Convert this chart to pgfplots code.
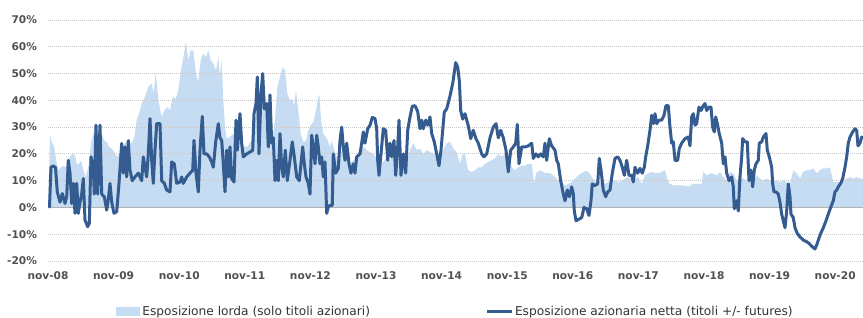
\documentclass[border=0pt]{standalone}
\usepackage{pgfplots}
\usepackage{pgfplotstable}
\pgfplotsset{compat=1.18}
\usepackage{fontspec}
\setmainfont{DejaVu Sans}
\definecolor{grossc}{RGB}{197,220,242}
\definecolor{netc}{RGB}{52,92,145}
\definecolor{tickc}{RGB}{80,80,80}
\definecolor{gridc}{RGB}{200,200,200}

% x = horizontal position in chart pixels (48 = nov-08, 65.6 px per year), y = exposure in %
\pgfplotstableread{
x y
48.3 1
50 27
51.7 24.5
54.3 22.6
56.7 16.3
58.3 13.9
61 15
63.3 15.6
65.7 15
67.7 17.6
70 18.9
72.3 20
75 19.5
76.7 16.3
79 16.3
81 17.6
83.3 13.9
85.7 11.4
88.3 15
91 24
93.3 27.6
95 29.4
98.3 28.8
101.7 27.6
104.3 25
106.7 24.5
109 22.6
111.7 22
114.3 20.7
116.7 18.9
119 20
121.7 21.4
125 24
128.3 24.5
131.7 24
134.3 26.3
136.7 32.6
139 35
141.7 38.8
145 41.3
148.3 45
151.7 46.3
153.7 42.5
155.7 50.6
158.3 40
161.7 33.8
164.3 36.2
167.7 37.5
170 36.2
172.7 41.3
175.7 40.6
178.3 43.7
181 51.2
183.3 56
186 61.8
188.3 55
190.7 58.7
193.3 58.7
196 50
198.3 46.9
200.7 55
203.3 57.5
206 56.2
208.3 58.7
210.7 55
213.3 53.7
216 51.2
218.3 56.2
220 49.4
221.7 55
223.3 40
225 30
226.7 25.7
230 26.3
233.3 27.6
236.7 26.3
240 25
243.3 23
246.7 22.6
250 24
252.7 26.3
255 32.6
257.3 38.8
260 42.5
262.7 47.5
265 42.5
267.3 36.2
270 28.8
272.7 26.3
275 32.6
277.3 45
280 48.7
282.7 52.4
285 51.2
287.3 42.5
290 40
292.7 40.6
294 37.5
296 43.7
298.3 36.2
300.7 27.6
303.3 24.5
306 25
308.3 28.8
310.7 30.7
313.3 31.9
316 36.2
318.3 41.3
319.5 42
321 32.6
323.3 27.6
325.7 26.3
327.7 25
330 22.6
331.7 25
334.3 21.4
336.7 18.9
340 20
343.3 21.4
346.7 17.6
350 16.3
353.3 17.6
356.7 18.9
360 20
363.3 22.6
366.7 21.4
370 20.7
373.3 20
376.7 18.3
380 16.3
383.3 17
386.7 18.9
390 17.6
393.3 20
396.7 17.6
400 17
403.3 17.6
406.7 17.6
410 21.4
413.3 24
416.7 21.4
420 22
423.3 20
426.7 21.4
430 20.7
433.3 20
436.7 20.7
440 18.9
443.3 21.4
446.7 24
450 24.5
453.3 22
456.7 20.7
460 16.3
462.7 20
465 20
466.7 16.3
468.3 13.9
471.7 13.3
475 13.9
478.3 15
481.7 15
485 16.3
488.3 17
491.7 17.6
495 18.3
498.3 20
501.7 18.9
505 20
508.3 18.9
511.7 15
515 13.9
518.3 15
521.7 15.6
525 15.6
528.3 16.3
531.7 16.3
534.3 8.8
536 12.8
540 13.9
545 12.8
550 12.8
555 11.4
558.3 10
561.7 9.5
565 8.2
568.3 8.8
571.7 9.5
575 10.8
578.3 12
581.7 12.8
585 13.6
588.3 13.3
591.7 11.4
595 10
598.3 9.5
601.7 10
605 8.8
608.3 9.5
611.7 10
615 10
618.3 9.5
621.7 10
625 10.8
628.3 11.4
631.7 10
635 10.8
638.3 11.4
641.7 8.8
645 12
648.3 12.8
651.7 13.3
655 12.8
658.3 12.8
661.7 13.3
665 13.9
667.7 10
670 8.8
673.3 8.2
678.3 8.2
683.3 8.2
688.3 7.8
693.3 8.8
698.3 8.8
701.7 8.8
703.3 13.3
706.7 12
711.7 12.8
716.7 12
720 13.2
723.3 11.4
726.7 10
730 13.3
733.3 12.8
736.7 10
740 11.4
743.3 10.8
746.7 10
750 9.5
753.3 10
756.7 12
760 10.8
763.3 10
766.7 10.8
770 10
773.3 9.5
776.7 10
780 9.5
783.3 10
786.7 9.5
790 8.8
793.3 13.9
796.7 12.8
800 10.8
803.3 13.3
806.7 13.9
810 13.9
813.3 14.6
816.7 12.8
820 13.9
823.3 14.6
826.7 14.6
830 15
833.3 9.5
836.7 9.5
840 9.5
843.3 10
846.7 10.8
850 11.4
853.3 10.8
856.7 11.4
860 10.8
863 10.8
}\gross

\pgfplotstableread{
x y
48.3 1.7
49.5 0.2
51 15
53 15.5
55.5 15
57.3 5.8
60 2
62.3 5.2
65 1.5
66.7 4
68.3 17.6
70 12.8
71.7 1.5
73.3 9
75 -2.2
76.7 9
78.3 -2.2
80 2
81.7 5
83.3 10.8
85 -4.7
87.7 -7.2
89.3 -6
91 18.9
93.3 15
94.3 5
96 30.7
97.7 5
100 30.7
101.7 5
104.3 4
106.7 -1
108.3 3
110 9
111.7 2
114 -2.2
116.7 -1.6
119 9
121.7 23.9
123.3 12.8
125 22.6
126.7 11.4
128.3 25
130 14
132.3 10
135 11.4
138.3 12.8
141.7 10
143.3 18.9
145 15
146.7 11.4
148.3 20
150 33.2
151.7 17.6
153.3 9
155 21.3
156.7 31.3
160 31.3
161.7 10
164.3 9
166.7 6.5
170 5.8
171.7 17
174.3 16.3
176.7 9
180 9.5
181.7 11.4
183.3 9
186.7 11.4
190 12.8
192.7 13.9
194 25
196 12.8
198.3 5.8
200 21.4
202.3 34
204 20
206.7 20
209.3 18.9
211.7 17
213.3 15
215.7 24.5
218.3 31.3
220 26
221.7 25
223.3 16.3
225 5.8
226.7 21.4
228.3 11.4
230 22.6
231.7 10.8
234 9.5
236 32.6
237.3 21.4
240 35
241.7 24
243.3 18.9
246.7 20
250 20.7
252.7 21.3
254 35
256 38.8
257.3 48.7
259 20
261 42.5
262.7 50
264.3 36.8
266.7 38.8
268.3 22.6
270 42
271.7 24
273.3 26
275 10
276.7 17.6
278.3 10
280 27.6
281.7 15
283.3 11.4
285.3 21.4
287.3 10
290 17.6
292.3 24.5
294.3 18.9
296.7 11.4
299.3 10
302.7 22.6
304.3 16.3
306 11.4
308.3 9
310 5
311.7 27
313.3 22.6
315 16.3
316.7 27
318.3 22.6
320 16.3
321.7 18.9
323.3 11.4
325 17
326.7 -2.2
328.3 0.2
330 0.8
332.3 0.8
333.3 20
335.7 12.8
338.3 14.6
340 25
341.7 30
343.3 22.6
345 17.6
346.7 24
349 16.3
351 12.8
353.3 16.3
355 12.8
356.7 18.9
360 20
361.7 24
363.3 28.2
365 24
367.7 29.4
370 30.7
372.3 33.6
375 33.2
376.7 29.4
377.7 17.6
379 12
381 20
383.3 29.4
385.7 28.8
387.7 17.6
390 24
391.7 18.9
394 25
395.7 12
397.7 22.6
399 32.6
401 12
403.3 20
405.7 12.8
407.7 28.8
410 33.8
412.3 37.8
415 38
417.7 35.8
420 29.4
421.7 32.6
423.3 29.4
425.7 32.6
427.7 30.7
430 33.8
431.7 27.6
434.3 24.5
436.7 20
439 15.6
441 21.4
442.7 28.8
444.3 35.6
446.7 36.8
450 41.6
452.7 46.3
455.7 54.1
457.7 52.4
459.3 47.5
460.7 36.2
462.7 33
465 35
468.3 30.5
470.7 25.7
473.3 28.8
476 25.7
478.3 24
481.7 20
484 18.9
486.7 20
490 26
493.3 30
496 31.3
498.3 26
500.7 28.8
503.3 26
506 21.4
508.3 13.3
510.7 21.4
513.3 22.6
515.7 24
517.3 31
519 16.3
521.7 22.6
525 22.6
528.3 23
531.7 24
533.3 18.3
536 20
538.3 18.9
540.7 20
543.3 18.9
545 24
546.7 17.6
549.3 25.7
551.7 23
555 21.4
556.7 17.6
558.3 16.3
560.7 10
563.3 5
565 2.5
567.3 6.5
569.3 4
571.7 7.7
573.3 5
574.3 -1.3
576 -5
578.3 -4.5
581.7 -3.8
584 0
586.7 -0.5
589 -3
591 2.5
592.3 8.8
595 8.2
597.7 8.8
599.3 18.3
601 14
603.3 6.5
605.7 4
607.7 5.8
610 6.5
612.3 12.8
615 18.3
617.7 18.9
620 17.6
622.3 15
624.3 12
626.7 17.6
629 12
631.7 12
633.3 9.5
635 15
637.7 12.8
640 14.6
642.3 12.8
644.3 15
645.7 18.9
647.7 23
650 28.8
651.7 34.4
653.3 31.3
655 35
656.7 31.3
659 32.6
661.7 32.6
664 34.4
666 38
668.3 38
670 30
671.7 24
673.3 24.5
675 17.6
677.7 17.6
679.3 22
681.7 24
685 25.7
688.3 26.3
690 23
691.7 33.8
693.3 35
695 30.7
696.7 31.3
699 37.5
701 36.2
703.3 38
705 38.8
706.7 36.2
709 37.5
711 37.5
712.7 30
714.3 28.2
715.7 33.8
717.7 30.7
719 28
721.7 24
723.3 16.3
725 18.9
726.7 12.8
729 10
731.7 11.4
733.3 7.7
734.3 -0.5
736.7 2.5
738.3 -1.3
740 11.4
741.7 18.9
742.7 25.7
745 24.5
747.3 24.5
749 10
750.7 14
752.7 7.7
754.3 14
756 16.3
758.3 17.6
759.3 24
761.7 24.5
763.3 26.3
766 27.6
767.3 21.4
769.3 18.9
771.7 15
772.7 8.8
774 5.8
776 5.8
778.3 5
780 1.9
781.7 -2.5
783.3 -5
785 -7.6
786.7 -1.3
788.3 8.8
790 4
791 -2.5
793.3 -3.8
795 -7.6
797.3 -9.7
800 -11
803.3 -12.2
806.7 -12.8
809.3 -13.5
811.7 -14.5
815 -15.5
816.7 -14
818.3 -12.2
820.7 -9.7
823.3 -7.6
826 -5
828.3 -2.5
830.7 0
833.3 2.5
835 5.8
836.7 6.5
838.3 7.7
840.7 9
842.7 10.8
845 15
846.7 18.9
848.3 24
850 26.3
852.7 28.2
855 29.4
856.7 28.8
858 23
860 24
861.7 26.3
863 25.7
}\net

\begin{document}
\begin{tikzpicture}
\begin{axis}[
  set layers,
  clip mode=individual,
  scale only axis,
  width=815pt, height=241pt,
  xmin=0, xmax=12.424,
  ymin=-20, ymax=70,
  axis line style={draw=none},
  tick style={draw=none},
  major tick length=0pt,
  xtick={0,1,2,3,4,5,6,7,8,9,10,11,12},
  xticklabels={nov-08,nov-09,nov-10,nov-11,nov-12,nov-13,nov-14,nov-15,nov-16,nov-17,nov-18,nov-19,nov-20},
  ytick={-20,-10,0,10,20,30,40,50,60,70},
  yticklabels={-20\%,-10\%,0\%,10\%,20\%,30\%,40\%,50\%,60\%,70\%},
  ymajorgrids=true,
  major grid style={draw=gridc, line width=0.8pt, dash pattern=on 1pt off 1pt},
  extra y ticks={0},
  extra y tick labels={},
  extra y tick style={grid=major, major grid style={solid, draw=black!30, line width=0.9pt}},
  tick label style={font=\fontsize{10.6}{12}\selectfont\bfseries, text=tickc},
  yticklabel style={xshift=-7.5pt},
  xticklabel style={yshift=-7.5pt},
  legend columns=2,
  legend style={at={(0.5,-0.21)}, anchor=center, draw=none, fill=none,
    font=\fontsize{12.2}{14}\selectfont, text=black!80,
    /tikz/every even column/.append style={column sep=113pt}},
]
\addplot[on layer=axis background, fill=grossc, draw=none,
  legend image code/.code={\fill[grossc] (0pt,-4.5pt) rectangle (24pt,4.5pt);}]
  table[x expr=(\thisrow{x}-48)/65.6, y=y] {\gross} \closedcycle;
\addlegendentry{Esposizione lorda (solo titoli azionari)}
\addplot[netc, line width=3pt, line join=round,
  legend image code/.code={\draw[netc, line width=3pt] (0pt,0pt) -- (25pt,0pt);}]
  table[x expr=(\thisrow{x}-48)/65.6, y=y] {\net};
\addlegendentry{Esposizione azionaria netta (titoli +/- futures)}
\end{axis}
\pgfresetboundingbox
\path[use as bounding box] (-48pt,-56pt) rectangle (815pt,261pt);
\end{tikzpicture}
\end{document}
